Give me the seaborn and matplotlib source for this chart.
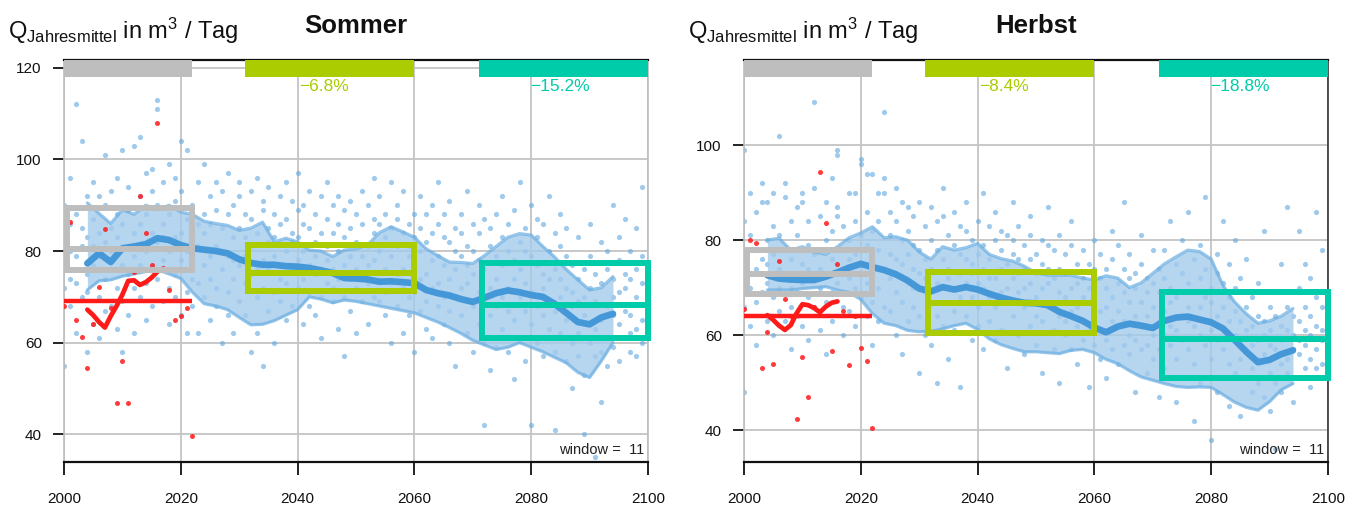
import numpy as np
import pandas as pd
import matplotlib
matplotlib.use("Agg")
import matplotlib.pyplot as plt
import matplotlib.transforms as mtransforms
from matplotlib.patches import Rectangle
import seaborn as sns

sns.set_style("white")
plt.rcParams["font.family"] = ["Liberation Sans", "DejaVu Sans"]
plt.rcParams["mathtext.fontset"] = "custom"
plt.rcParams["mathtext.rm"] = "Liberation Sans"
plt.rcParams["mathtext.default"] = "regular"

# ---------------- data ----------------
member_years = list(range(2000, 2100))

sommer_members = [
    [84, 72, 90, 55, 78], [96, 68, 80, 86, 74], [73, 88, 62, 79, 112], [81, 70, 104, 121, 85],
    [75, 92, 83, 58, 71], [87, 77, 64, 95, 81], [79, 92, 70, 84, 61], [90, 74, 82, 67, 101],
    [68, 85, 76, 93, 80], [83, 63, 88, 72, 96], [77, 102, 69, 86, 58], [89, 75, 81, 94, 66],
    [72, 84, 103, 79, 62], [86, 70, 92, 77, 105], [80, 97, 73, 88, 65], [93, 68, 84, 76, 98],
    [113, 82, 74, 90, 111], [78, 95, 86, 69, 83], [88, 72, 99, 80, 64], [75, 91, 83, 70, 96],
    [84, 66, 93, 78, 104], [102, 80, 71, 87, 62], [79, 90, 68, 83, 74], [86, 73, 95, 62, 81],
    [70, 88, 77, 99, 84], [92, 79, 65, 86, 74], [81, 95, 72, 68, 89], [76, 85, 93, 60, 80],
    [88, 71, 79, 97, 66], [74, 90, 83, 62, 78], [85, 69, 92, 77, 95], [79, 88, 66, 83, 73],
    [93, 75, 81, 58, 87], [70, 84, 96, 76, 62], [89, 78, 72, 91, 55], [76, 94, 82, 67, 85],
    [83, 71, 88, 79, 60], [92, 77, 69, 86, 74], [73, 87, 80, 95, 65], [84, 68, 91, 76, 82],
    [78, 89, 72, 83, 97], [86, 74, 80, 64, 90], [71, 93, 77, 85, 68], [88, 79, 66, 82, 75],
    [76, 84, 92, 70, 61], [81, 73, 87, 78, 95], [90, 69, 76, 84, 72], [74, 86, 80, 63, 92],
    [83, 77, 70, 89, 57], [79, 91, 74, 67, 85], [72, 82, 88, 76, 62], [86, 75, 69, 93, 79],
    [77, 90, 73, 81, 64], [84, 70, 87, 78, 96], [69, 80, 92, 74, 86], [88, 76, 66, 83, 71],
    [73, 85, 79, 95, 60], [81, 68, 90, 75, 87], [76, 84, 72, 62, 93], [86, 79, 70, 81, 66],
    [71, 88, 76, 83, 58], [80, 67, 85, 74, 92], [75, 82, 69, 88, 63], [84, 72, 78, 61, 90],
    [68, 79, 86, 73, 95], [77, 64, 83, 70, 88], [82, 74, 67, 91, 60], [70, 85, 76, 80, 55],
    [79, 66, 88, 72, 84], [73, 81, 62, 77, 93], [86, 68, 75, 58, 80], [64, 78, 84, 71, 90],
    [76, 60, 87, 69, 42], [81, 72, 66, 85, 54], [68, 88, 74, 79, 59], [83, 63, 77, 92, 70],
    [72, 86, 80, 58, 67], [78, 65, 89, 74, 52], [70, 82, 61, 76, 95], [85, 73, 67, 80, 56],
    [64, 79, 90, 71, 42], [77, 68, 83, 60, 87], [72, 86, 57, 75, 66], [80, 63, 74, 92, 69],
    [67, 76, 84, 58, 41], [74, 62, 81, 70, 88], [65, 79, 56, 72, 85], [71, 60, 77, 68, 50],
    [62, 74, 83, 57, 69], [76, 66, 53, 70, 40], [60, 72, 79, 64, 86], [69, 57, 75, 63, 35],
    [73, 65, 82, 58, 47], [61, 76, 68, 55, 80], [70, 59, 74, 66, 90], [64, 78, 71, 56, 83],
    [72, 61, 87, 67, 75], [58, 74, 66, 80, 62], [76, 63, 70, 85, 57], [65, 79, 60, 73, 94],
]

herbst_members = [
    [99, 77, 66, 84, 48], [90, 73, 81, 62, 70], [78, 86, 67, 74, 58], [92, 88, 117, 69, 76],
    [88, 71, 80, 63, 75], [83, 68, 77, 90, 60], [102, 74, 65, 81, 70], [92, 89, 72, 63, 78],
    [76, 84, 66, 70, 57], [81, 73, 87, 64, 69], [90, 88, 75, 62, 71], [79, 68, 84, 74, 59],
    [109, 91, 77, 66, 72], [85, 70, 78, 61, 74], [80, 73, 88, 67, 56], [93, 76, 69, 82, 63],
    [99, 98, 87, 85, 71], [78, 83, 66, 74, 60], [90, 72, 80, 65, 76], [90, 77, 70, 84, 62],
    [97, 96, 73, 68, 81], [94, 79, 71, 64, 86], [94, 75, 82, 67, 58], [90, 78, 70, 84, 63],
    [107, 93, 90, 74, 66], [81, 72, 86, 65, 77], [84, 69, 76, 91, 60], [75, 88, 67, 80, 56],
    [82, 71, 77, 63, 87], [70, 79, 85, 66, 74], [88, 73, 64, 78, 52], [76, 83, 69, 60, 72],
    [80, 67, 74, 87, 58], [71, 78, 84, 64, 50], [85, 70, 76, 62, 91], [74, 81, 67, 72, 55],
    [79, 65, 86, 70, 61], [68, 77, 73, 83, 49], [82, 71, 64, 76, 88], [73, 80, 68, 59, 75],
    [77, 66, 84, 71, 62], [70, 79, 74, 90, 57], [83, 68, 76, 63, 72], [72, 80, 66, 86, 59],
    [78, 69, 74, 61, 82], [67, 75, 81, 70, 53], [80, 72, 64, 77, 88], [69, 76, 83, 60, 73],
    [74, 66, 79, 70, 56], [81, 71, 62, 76, 85], [68, 77, 73, 58, 64], [75, 63, 80, 70, 52],
    [71, 79, 66, 74, 87], [78, 67, 61, 72, 57], [64, 74, 81, 69, 50], [73, 60, 68, 77, 63],
    [79, 70, 65, 57, 84], [66, 75, 62, 71, 54], [72, 63, 78, 59, 68], [61, 70, 67, 75, 49],
    [74, 64, 58, 69, 80], [65, 72, 61, 77, 55], [70, 59, 66, 74, 51], [63, 76, 68, 57, 82],
    [71, 62, 65, 79, 54], [58, 69, 74, 63, 88], [67, 60, 72, 56, 77], [73, 64, 59, 70, 48],
    [62, 75, 67, 57, 81], [69, 58, 64, 72, 52], [60, 71, 66, 55, 78], [74, 63, 57, 69, 47],
    [65, 72, 60, 78, 53], [70, 58, 67, 62, 84], [61, 75, 68, 55, 46], [73, 64, 59, 80, 51],
    [66, 71, 57, 63, 86], [62, 76, 69, 54, 42], [72, 60, 66, 79, 50], [58, 68, 74, 63, 89],
    [70, 61, 55, 67, 38], [64, 73, 59, 77, 48], [57, 66, 71, 61, 84], [68, 54, 63, 75, 45],
    [60, 70, 52, 65, 80], [55, 63, 58, 72, 43], [66, 51, 61, 57, 76], [53, 62, 68, 48, 58],
    [59, 50, 64, 55, 71], [63, 56, 47, 60, 82], [52, 61, 58, 66, 44], [57, 64, 50, 69, 36],
    [62, 54, 59, 48, 75], [55, 66, 61, 52, 87], [60, 51, 57, 64, 46], [63, 56, 70, 59, 82],
    [58, 66, 53, 61, 75], [64, 55, 60, 72, 49], [57, 68, 62, 53, 86], [61, 54, 66, 59, 78],
]

obs_years = list(range(2000, 2023))
sommer_obs = [68.0, 86.4, 64.9, 61.2, 54.5, 64.1, 72.2, 84.8, 67.5, 46.9, 56.1, 46.9,
              75.5, 92.0, 84.0, 77.0, 108.0, 76.4, 71.5, 64.9, 65.9, 67.5, 39.6]
herbst_obs = [65.4, 80.1, 79.3, 53.0, 60.7, 53.9, 75.6, 67.5, 64.0, 42.3, 55.3, 46.9,
              66.0, 94.3, 83.7, 56.7, 74.9, 65.0, 53.7, 64.0, 57.3, 54.5, 40.4]

obs_smooth_years = list(range(2004, 2017))
sommer_obs_smooth = [67.2, 66.0, 64.5, 63.3, 65.8, 68.0, 70.5, 73.5, 73.6, 72.6, 73.2, 74.2, 75.5]
herbst_obs_smooth = [64.2, 63.2, 62.0, 61.1, 62.1, 64.6, 66.5, 66.3, 65.7, 64.8, 66.0, 66.8, 67.1]
sommer_obs_mean = 69.2
herbst_obs_mean = 64.0

band_years = list(range(2004, 2095, 2))
sommer_upper = [90.5, 88.2, 86.0, 89.0, 88.0, 90.0, 89.0, 90.0, 88.5, 88.0, 86.5, 86.0,
                85.6, 84.5, 85.0, 86.3, 82.0, 82.8, 82.0, 80.2, 80.0, 78.8, 80.2, 80.5,
                81.3, 84.0, 85.3, 84.2, 83.0, 80.5, 79.0, 77.6, 77.5, 77.3, 79.0, 81.0,
                83.0, 83.8, 83.5, 81.0, 78.7, 76.0, 73.7, 71.5, 72.0, 74.4]
sommer_lower = [71.5, 73.5, 73.7, 74.5, 75.0, 75.5, 75.9, 75.0, 74.0, 71.0, 68.5, 68.0,
                67.2, 65.5, 63.9, 64.0, 64.8, 66.0, 67.2, 70.0, 69.5, 68.7, 69.3, 69.0,
                68.5, 68.0, 67.5, 67.0, 66.5, 65.5, 64.5, 63.3, 62.0, 60.5, 59.5, 58.5,
                59.0, 60.0, 59.0, 58.0, 56.8, 55.6, 53.5, 52.4, 56.0, 60.0]
sommer_center = [77.3, 79.5, 77.6, 80.6, 81.0, 81.5, 82.8, 82.4, 81.3, 80.6, 80.3, 80.0,
                 79.5, 78.2, 77.4, 77.0, 77.0, 76.7, 76.6, 76.3, 75.8, 75.2, 74.1, 74.0,
                 73.8, 73.3, 73.4, 73.2, 73.0, 71.5, 70.8, 70.3, 69.5, 68.9, 69.8, 70.8,
                 71.4, 71.0, 70.4, 70.0, 68.5, 66.5, 64.5, 64.0, 65.5, 66.3]
herbst_upper = [80.0, 80.4, 77.9, 78.6, 77.5, 77.0, 78.6, 80.5, 81.5, 82.8, 80.5, 80.7,
                80.0, 77.5, 76.0, 78.6, 77.9, 78.4, 79.3, 77.0, 76.1, 75.6, 74.5, 73.1,
                72.6, 72.6, 72.6, 72.0, 71.6, 72.5, 72.0, 70.0, 71.0, 73.0, 75.0, 76.5,
                77.9, 77.6, 76.0, 70.5, 67.0, 64.5, 62.5, 63.0, 64.0, 65.6]
herbst_lower = [69.5, 69.5, 69.5, 69.8, 70.0, 70.2, 69.5, 69.0, 67.5, 64.5, 62.5, 62.0,
                61.0, 60.7, 60.8, 61.3, 62.0, 62.5, 61.2, 59.2, 58.0, 57.2, 56.5, 56.5,
                56.3, 56.1, 56.8, 57.0, 56.3, 54.9, 54.0, 52.5, 51.2, 50.5, 49.8, 49.2,
                49.0, 49.1, 49.0, 47.5, 45.9, 44.8, 44.2, 46.0, 48.5, 49.8]
herbst_center = [72.6, 71.9, 71.7, 71.6, 71.6, 72.3, 73.2, 74.2, 75.0, 74.3, 73.7, 72.8,
                 71.5, 69.8, 69.2, 70.1, 69.6, 70.1, 69.6, 68.7, 67.9, 67.3, 66.8, 66.7,
                 66.3, 64.9, 64.0, 63.0, 61.6, 60.6, 61.8, 62.4, 62.0, 61.5, 63.0, 63.7,
                 63.9, 63.3, 62.7, 61.4, 59.0, 56.5, 54.3, 54.8, 56.0, 56.8]

period_starts = [2000, 2031, 2071]
period_ends = [2022, 2060, 2100]
period_colors = ["#BEBEBE", "#AACC00", "#00CCAA"]
sommer_box_low = [75.9, 71.2, 61.1]
sommer_box_mid = [80.4, 75.2, 68.3]
sommer_box_high = [89.3, 81.3, 77.4]
herbst_box_low = [68.6, 60.5, 50.9]
herbst_box_mid = [72.8, 66.7, 59.1]
herbst_box_high = [78.0, 73.3, 69.1]
sommer_changes = ["\u22126.8%", "\u221215.2%"]
herbst_changes = ["\u22128.4%", "\u221218.8%"]
x_ticks = [2000, 2020, 2040, 2060, 2080, 2100]

# ---------------- figure ----------------
W, H = 1359, 505
fig = plt.figure(figsize=(W / 100, H / 100), dpi=100)
ax1 = fig.add_axes([64 / W, 1 - 462 / H, 584 / W, 402 / H])
ax2 = fig.add_axes([744 / W, 1 - 462 / H, 584 / W, 402 / H])

PT_COLOR = "#5fa8e0"
BAND_FILL = "#a4cbec"
BAND_EDGE = "#6aaee2"
THICK = "#4598d8"
RED = "#ff1a1a"


def panel(ax, title, members, obs, obs_smooth, obs_mean, upper, lower, center,
          box_low, box_mid, box_high, changes, ylim, yticks, right_spine_color):
    df = pd.DataFrame({
        "year": np.repeat(member_years, [len(v) for v in members]),
        "value": np.concatenate([np.asarray(v, float) for v in members]),
    })
    sns.scatterplot(data=df, x="year", y="value", ax=ax, color=PT_COLOR, alpha=0.6,
                    s=14, linewidth=0, zorder=2, legend=False)

    ax.fill_between(band_years, lower, upper, color=BAND_FILL, alpha=0.8, lw=0, zorder=3)
    sns.lineplot(x=band_years, y=upper, ax=ax, color=BAND_EDGE, lw=2.3, alpha=0.7,
                 zorder=3.5, estimator=None, legend=False)
    sns.lineplot(x=band_years, y=lower, ax=ax, color=BAND_EDGE, lw=2.3, alpha=0.7,
                 zorder=3.5, estimator=None, legend=False)
    sns.lineplot(x=band_years, y=center, ax=ax, color=THICK, lw=4.8,
                 zorder=4, estimator=None, legend=False)

    odf = pd.DataFrame({"year": obs_years, "value": obs})
    sns.scatterplot(data=odf, x="year", y="value", ax=ax, color=RED, alpha=0.85,
                    s=13, linewidth=0, zorder=5, legend=False)
    sns.lineplot(x=obs_smooth_years, y=obs_smooth, ax=ax, color=RED, lw=3.4,
                 zorder=5, estimator=None, legend=False)
    ax.hlines(obs_mean, obs_years[0], obs_years[-1], color=RED, lw=3.2, zorder=5)

    for s, e, c, lo, mi, hi in zip(period_starts, period_ends, period_colors,
                                   box_low, box_mid, box_high):
        ax.add_patch(Rectangle((s + 0.5, lo), e - s - 0.5, hi - lo, fill=False,
                               edgecolor=c, lw=4.3, zorder=6, clip_on=False))
        ax.hlines(mi, s + 0.5, e, color=c, lw=4.3, zorder=6)

    trans = mtransforms.blended_transform_factory(ax.transData, ax.transAxes)
    for s, e, c in zip(period_starts, period_ends, period_colors):
        ax.add_patch(Rectangle((s, 0.957), e - s, 0.043, transform=trans,
                               facecolor=c, edgecolor="none", zorder=7, clip_on=False))
    for x, txt, c in zip([2040.3, 2079.8], changes, period_colors[1:]):
        ax.text(x, 0.953, txt, transform=trans, color=c, fontsize=12.5,
                ha="left", va="top", zorder=8)

    ax.text(0.993, 0.012, "window =  11", transform=ax.transAxes, ha="right",
            va="bottom", fontsize=10.5, color="#222222", zorder=8)

    ax.set_xlim(2000, 2100)
    ax.set_ylim(*ylim)
    ax.set_xticks(x_ticks)
    ax.set_yticks(yticks)
    ax.set_xlabel("")
    ax.set_ylabel("")
    ax.grid(True, color="#c4c4c4", lw=1.3, zorder=0)
    ax.set_axisbelow(True)
    for side in ["top", "bottom"]:
        ax.spines[side].set_color("#111111")
        ax.spines[side].set_linewidth(1.6)
    ax.spines["left"].set_color("#bdbdbd")
    ax.spines["left"].set_linewidth(1.2)
    ax.spines["right"].set_color(right_spine_color)
    ax.spines["right"].set_linewidth(1.2)
    ax.tick_params(axis="x", direction="out", length=9.5, width=1.3, pad=12,
                   labelsize=11, colors="#111111", bottom=True)
    ax.tick_params(axis="y", direction="out", length=8, width=1.3, pad=8,
                   labelsize=11, colors="#111111", left=True)

    cx = (ax.get_position().x0 + ax.get_position().x1) / 2
    fig.text(cx, 1 - 33 / H, title, ha="center", va="baseline", fontsize=18.5,
             fontweight="bold", color="#111111")
    fig.text(ax.get_position().x0 - 56 / W, 1 - 39 / H,
             r"Q$_{Jahresmittel}$ in m$^{3}$ / Tag", ha="left", va="baseline",
             fontsize=17, color="#111111")


panel(ax1, "Sommer", sommer_members, sommer_obs, sommer_obs_smooth, sommer_obs_mean,
      sommer_upper, sommer_lower, sommer_center, sommer_box_low, sommer_box_mid,
      sommer_box_high, sommer_changes, (33.95, 121.7), [40, 60, 80, 100, 120], "#bdbdbd")
panel(ax2, "Herbst", herbst_members, herbst_obs, herbst_obs_smooth, herbst_obs_mean,
      herbst_upper, herbst_lower, herbst_center, herbst_box_low, herbst_box_mid,
      herbst_box_high, herbst_changes, (33.3, 117.9), [40, 60, 80, 100], "#333333")

fig.savefig("out.png", dpi=100)
